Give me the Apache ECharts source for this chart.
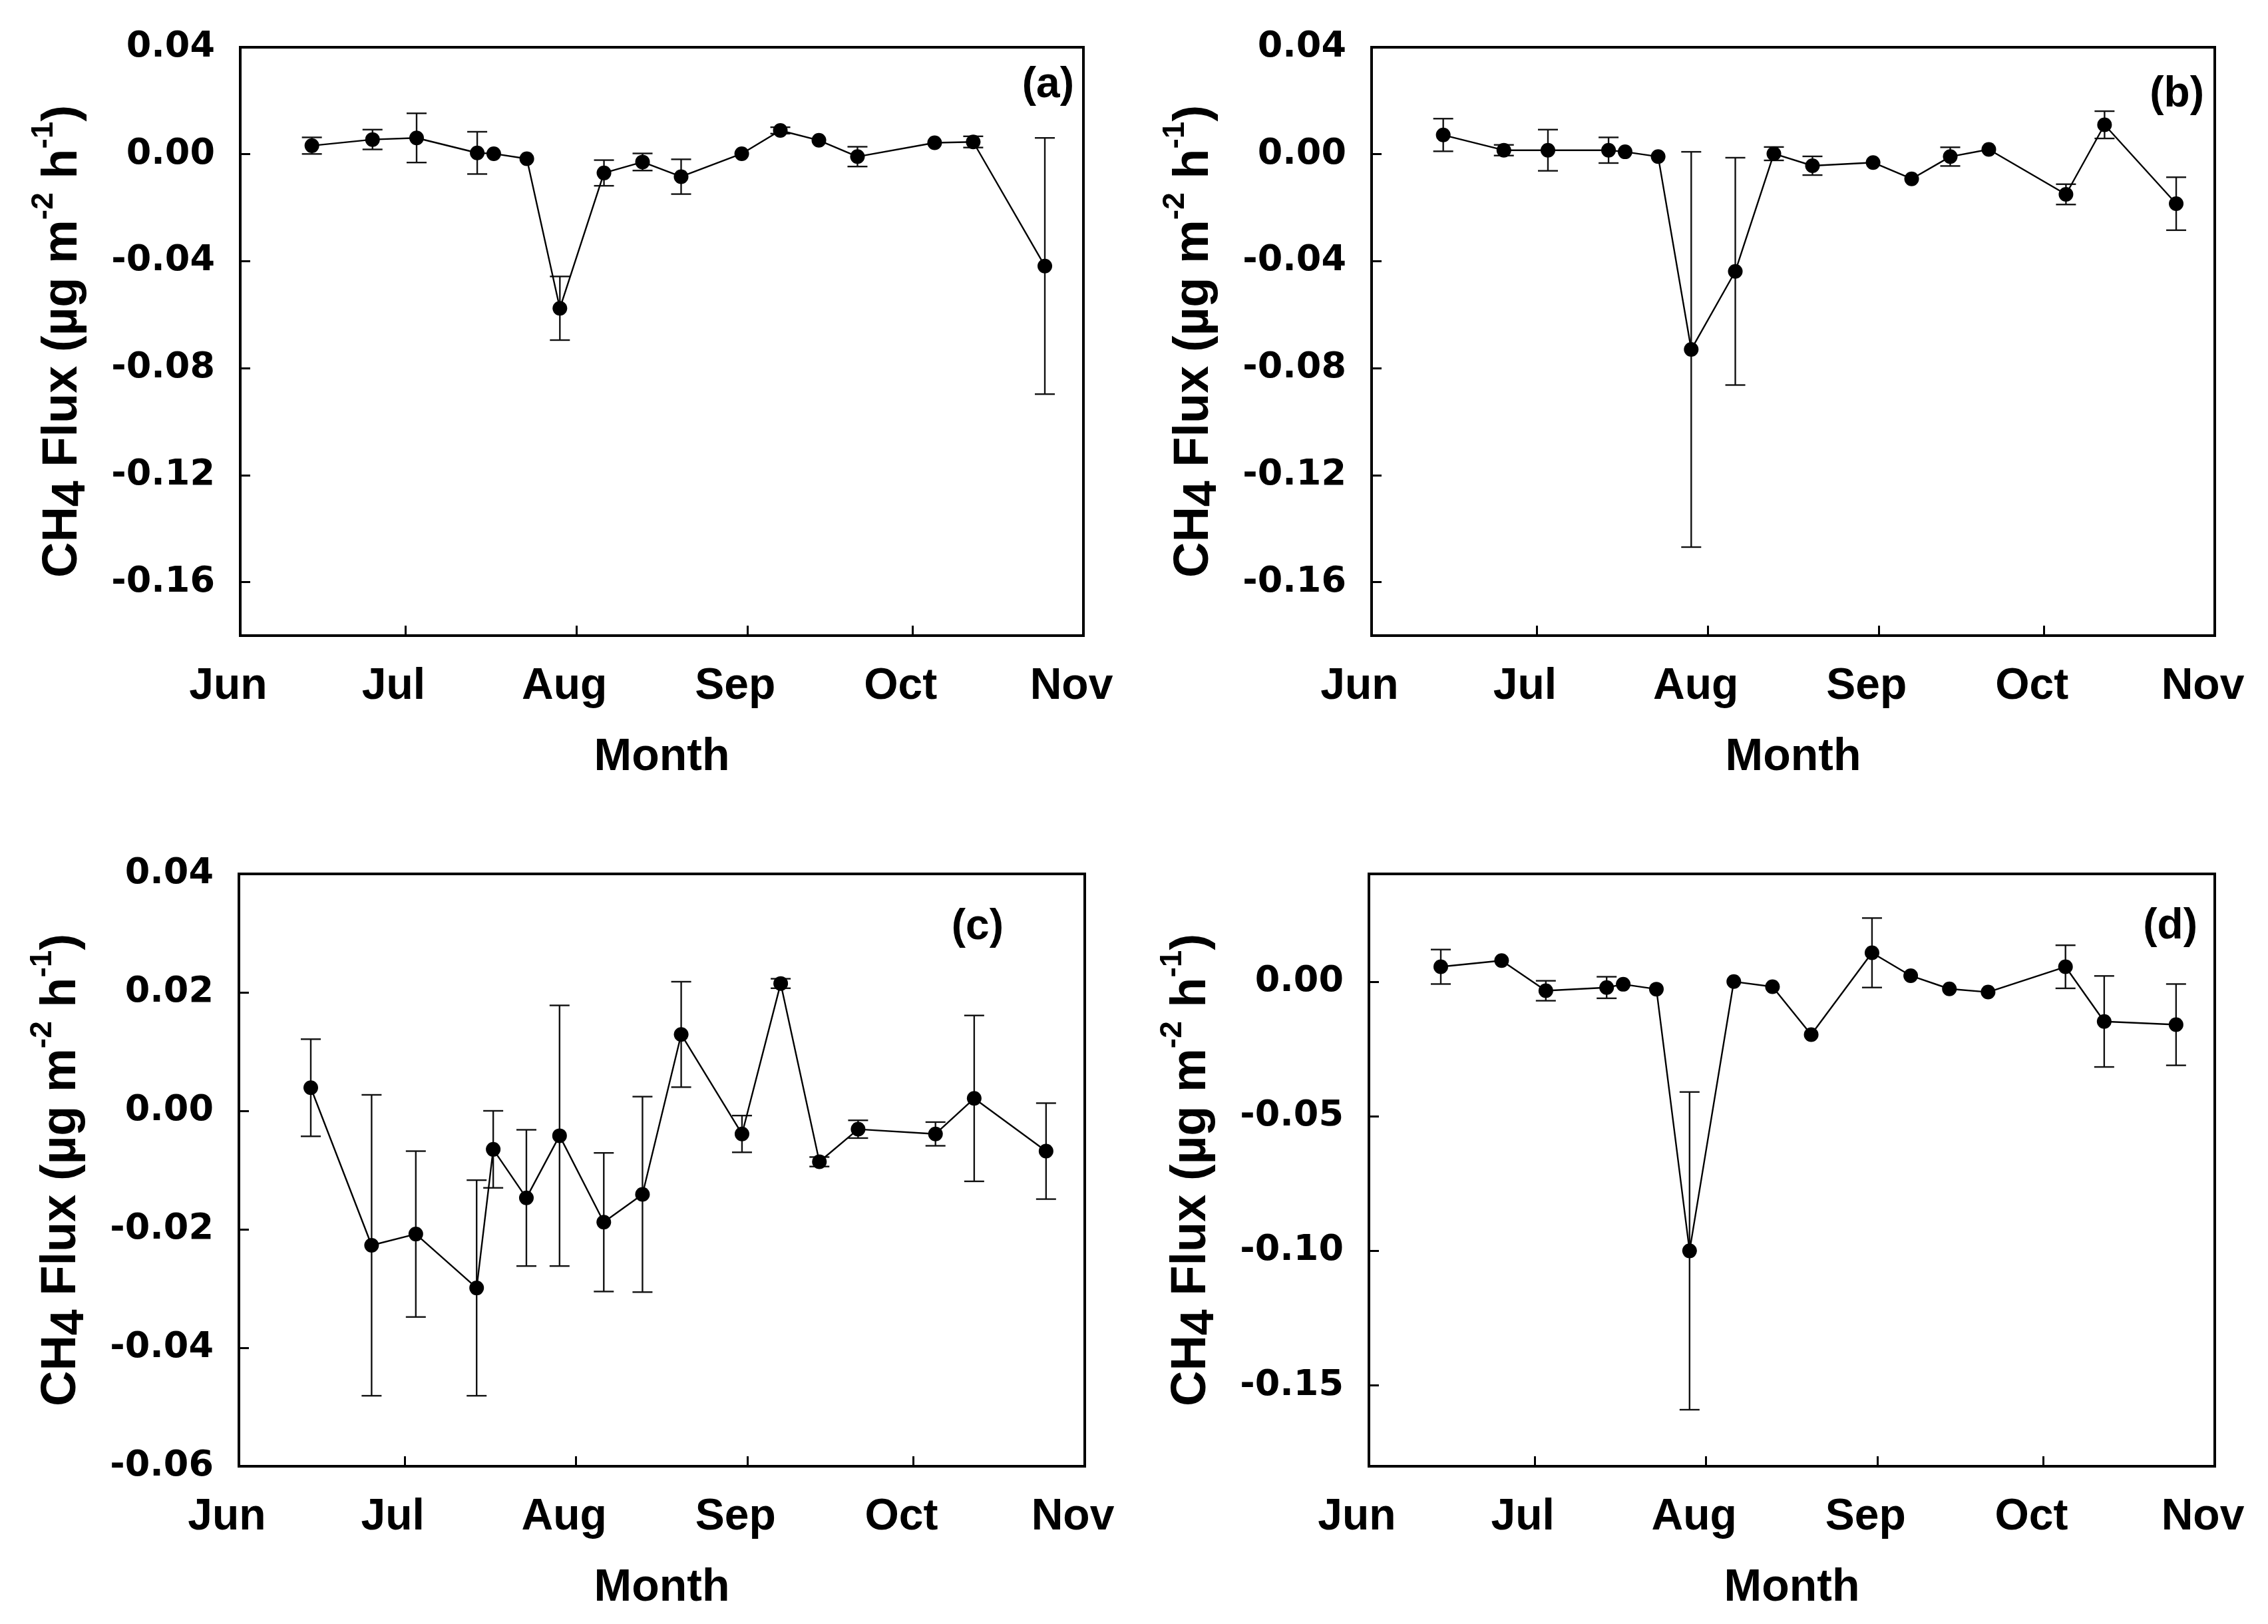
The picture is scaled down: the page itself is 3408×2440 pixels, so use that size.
<!DOCTYPE html>
<html>
<head>
<meta charset="utf-8">
<script src="https://cdn.jsdelivr.net/npm/echarts@6/dist/echarts.min.js"></script>
<style>
html,body{margin:0;padding:0;background:#fff;}
#chart{width:3408px;height:2440px;}
</style>
</head>
<body>
<div id="chart"></div>
<script>
// Sampling dates (shared by all four panels)
const sampleDates = ['06-14','06-25','07-03','07-14','07-17','07-23','07-29','08-06','08-13','08-20','08-31','09-07','09-14','09-21','10-05','10-12','10-25'];

// Month axis labels
const monthNames = ['Jun','Jul','Aug','Sep','Oct','Nov'];
const monthStarts = ['06-01','07-01','08-01','09-01','10-01','11-01'];

// Panel (a)
const fluxA = [0.0032, 0.0055, 0.0061, 0.0005, 0.0002, -0.0017, -0.0576, -0.0070, -0.0029, -0.0084, 0.0002, 0.0089, 0.0052, -0.0009, 0.0043, 0.0046, -0.0418];
const errA  = [0.0031, 0.0037, 0.0092, 0.0079, 0, 0, 0.0119, 0.0048, 0.0032, 0.0065, 0, 0.0012, 0, 0.0037, 0, 0.0021, 0.0479];
// Panel (b)
const fluxB = [0.0072, 0.0015, 0.0015, 0.0015, 0.0009, -0.0009, -0.0730, -0.0438, 0.0002, -0.0043, -0.0031, -0.0092, -0.0009, 0.0018, -0.0150, 0.0110, -0.0185];
const errB  = [0.0061, 0.0020, 0.0077, 0.0048, 0, 0, 0.0739, 0.0425, 0.0025, 0.0035, 0, 0, 0.0035, 0, 0.0038, 0.0051, 0.0099];
// Panel (c)
const fluxC = [0.0039, -0.0227, -0.0208, -0.0299, -0.0065, -0.0147, -0.0042, -0.0188, -0.0141, 0.0129, -0.0039, 0.0215, -0.0086, -0.0031, -0.0039, 0.0021, -0.0068];
const errC  = [0.0082, 0.0254, 0.0140, 0.0182, 0.0065, 0.0115, 0.0220, 0.0117, 0.0165, 0.0089, 0.0031, 0.0008, 0.0008, 0.0015, 0.0020, 0.0140, 0.0081];
// Panel (d)
const fluxD = [0.0055, 0.0078, -0.0034, -0.0022, -0.0010, -0.0028, -0.1000, 0.0000, -0.0019, -0.0197, 0.0107, 0.0022, -0.0027, -0.0039, 0.0055, -0.0148, -0.0160];
const errD  = [0.0064, 0, 0.0037, 0.0040, 0, 0, 0.0590, 0, 0, 0, 0.0129, 0, 0, 0, 0.0080, 0.0169, 0.0151];

// Y tick labels per panel
const yTicksA = [-0.16, -0.12, -0.08, -0.04, 0.00, 0.04];
const yTicksB = [-0.16, -0.12, -0.08, -0.04, 0.00, 0.04];
const yTicksC = [-0.06, -0.04, -0.02, 0.00, 0.02, 0.04];
const yTicksD = [-0.15, -0.10, -0.05, 0.00];

const panelLabels = ['(a)', '(b)', '(c)', '(d)'];

// --- helpers ---
const DAY = 86400000;
const ORIGIN = Date.UTC(2000, 5, 1);
function dayOf(md) {
  const [m, d] = md.split('-').map(Number);
  return (Date.UTC(2000, m - 1, d) - ORIGIN) / DAY;
}
const xDays = sampleDates.map(dayOf);
const monthDays = monthStarts.map(dayOf);

const panels = [
  {flux: fluxA, err: errA, ticks: yTicksA, min: -0.18, max: 0.04, grid: {left: 361, top: 71, width: 1267, height: 884}, label: {x: 1614, y: 128}},
  {flux: fluxB, err: errB, ticks: yTicksB, min: -0.18, max: 0.04, grid: {left: 2061, top: 71, width: 1267, height: 884}, label: {x: 3312, y: 142}},
  {flux: fluxC, err: errC, ticks: yTicksC, min: -0.06, max: 0.04, grid: {left: 359, top: 1313, width: 1271, height: 890}, label: {x: 1508, y: 1393}},
  {flux: fluxD, err: errD, ticks: yTicksD, min: -0.18, max: 0.04, grid: {left: 2057, top: 1313, width: 1271, height: 890}, label: {x: 3302, y: 1392}}
];

const FONT = '"Liberation Sans", Arial, sans-serif';
const TICKFONT = '"DejaVu Sans", sans-serif';

const yName = '{a|CH}{sub|4}{a| Flux (µg m}{sup|-2}{a| h}{sup|-1}{a|)}';
const yRich = {
  a:   {fontSize: 74, fontWeight: 'bold', fontFamily: FONT, color: '#000', lineHeight: 90},
  sub: {fontSize: 70, fontWeight: 'bold', fontFamily: FONT, color: '#000', lineHeight: 70, padding: [26, 0, 0, 0]},
  sup: {fontSize: 46, fontWeight: 'bold', fontFamily: FONT, color: '#000', lineHeight: 46, padding: [0, 0, 58, 0]}
};

const grids = [], xAxes = [], yAxes = [], series = [], graphics = [];

panels.forEach((p, i) => {
  grids.push(Object.assign({show: true, borderColor: '#000', borderWidth: 4, backgroundColor: 'transparent'}, p.grid));
  xAxes.push({
    type: 'value', gridIndex: i, min: monthDays[0], max: monthDays[5], position: 'bottom',
    axisLine: {show: false, onZero: false},
    splitLine: {show: false},
    axisTick: {show: true, inside: true, length: 15, lineStyle: {color: '#000', width: 3}, customValues: monthDays.slice(1, 5)},
    axisLabel: {
      customValues: monthDays,
      formatter: v => monthNames[monthDays.indexOf(v)] || '',
      fontSize: 66, fontWeight: 'bold', fontFamily: FONT, color: '#000',
      margin: 44, padding: [0, 36, 0, 0]
    },
    name: 'Month', nameLocation: 'middle', nameGap: 149,
    nameTextStyle: {fontSize: 68, fontWeight: 'bold', fontFamily: FONT, color: '#000'}
  });
  yAxes.push({
    type: 'value', gridIndex: i, min: p.min, max: p.max, position: 'left',
    axisLine: {show: false, onZero: false},
    splitLine: {show: false},
    axisTick: {show: true, inside: true, length: 15, lineStyle: {color: '#000', width: 3}, customValues: p.ticks},
    axisLabel: {
      customValues: p.ticks,
      formatter: v => v.toFixed(2),
      fontSize: 54, fontWeight: 'bold', fontFamily: TICKFONT, color: '#000', margin: 38
    },
    name: yName, nameLocation: 'middle', nameRotate: 90, nameGap: 221,
    nameTextStyle: {rich: yRich}
  });
  // error bars
  series.push({
    type: 'custom', xAxisIndex: i, yAxisIndex: i, z: 2, silent: true,
    data: xDays.map((d, k) => [d, p.flux[k] - p.err[k], p.flux[k] + p.err[k], p.err[k]]),
    encode: {x: 0, y: [1, 2]},
    renderItem: function (params, api) {
      if (api.value(3) <= 0) return null;
      const x = api.value(0);
      const top = api.coord([x, api.value(2)]);
      const bot = api.coord([x, api.value(1)]);
      const hw = 15;
      const st = {stroke: '#111', lineWidth: 2.4};
      return {type: 'group', children: [
        {type: 'line', shape: {x1: top[0], y1: top[1], x2: bot[0], y2: bot[1]}, style: st},
        {type: 'line', shape: {x1: top[0] - hw, y1: top[1], x2: top[0] + hw, y2: top[1]}, style: st},
        {type: 'line', shape: {x1: bot[0] - hw, y1: bot[1], x2: bot[0] + hw, y2: bot[1]}, style: st}
      ]};
    }
  });
  // line + markers
  series.push({
    type: 'line', xAxisIndex: i, yAxisIndex: i, z: 3, silent: true,
    data: xDays.map((d, k) => [d, p.flux[k]]),
    symbol: 'circle', symbolSize: 22, showSymbol: true,
    lineStyle: {color: '#000', width: 2.4},
    itemStyle: {color: '#000'},
    animation: false
  });
  graphics.push({
    type: 'text', x: p.label.x, y: p.label.y,
    style: {text: panelLabels[i], font: 'bold 64px ' + FONT, fill: '#000', align: 'right', verticalAlign: 'middle', textAlign: 'right', textVerticalAlign: 'middle'}
  });
});

const chart = echarts.init(document.getElementById('chart'), null, {renderer: 'canvas'});
chart.setOption({
  backgroundColor: '#fff',
  animation: false,
  grid: grids,
  xAxis: xAxes,
  yAxis: yAxes,
  series: series,
  graphic: graphics
});
</script>
</body>
</html>
